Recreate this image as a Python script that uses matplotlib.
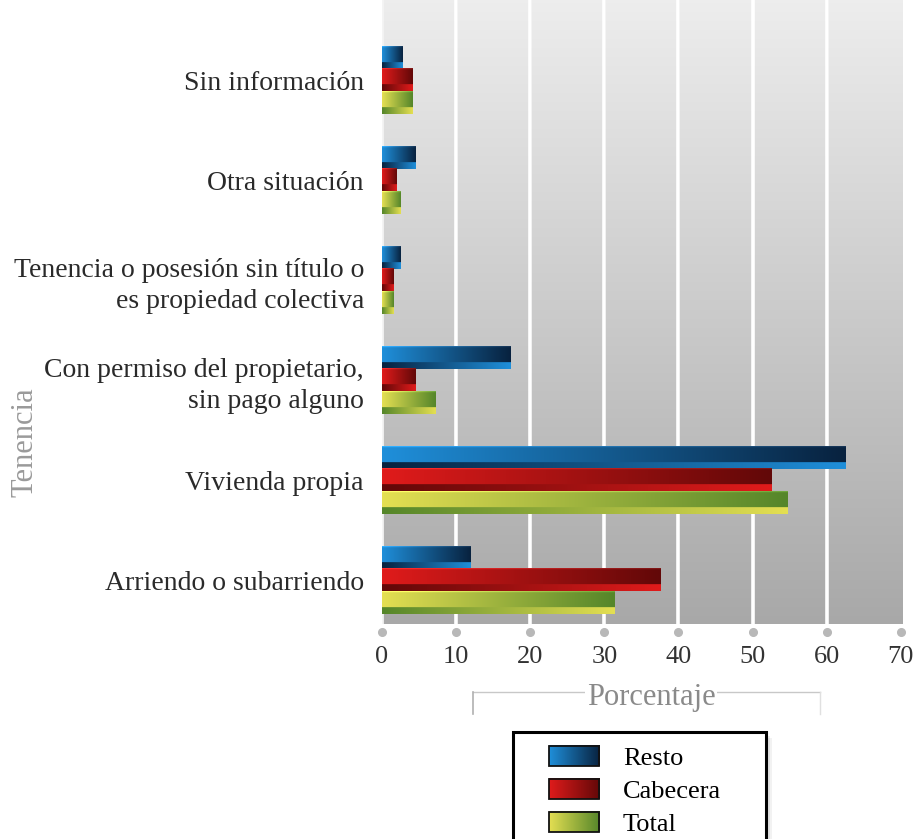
import numpy as np
import matplotlib
matplotlib.use('Agg')
import matplotlib.pyplot as plt
from matplotlib.colors import to_rgb
from matplotlib.patches import Rectangle, Patch
from matplotlib.lines import Line2D
from matplotlib.legend_handler import HandlerBase
from matplotlib.image import BboxImage
from matplotlib.transforms import Bbox, TransformedBbox

plt.rcParams['font.family'] = ['Liberation Serif', 'DejaVu Serif']

# categories bottom -> top
categorias = ['Arriendo o subarriendo', 'Vivienda propia',
              'Con permiso del propietario,\nsin pago alguno',
              'Tenencia o posesión sin título o\nes propiedad colectiva',
              'Otra situación', 'Sin información']
resto = [12.0, 62.5, 17.4, 2.5, 4.5, 2.8]
cabecera = [37.6, 52.5, 4.5, 1.6, 1.9, 4.1]
total = [31.4, 54.7, 7.2, 1.6, 2.5, 4.1]
series_names = ['Resto', 'Cabecera', 'Total']
xticks = [0, 10, 20, 30, 40, 50, 60, 70]

# light -> dark for each series
colores = {
    'Resto': ('#1f8fda', '#08223f'),
    'Cabecera': ('#e01b1b', '#620808'),
    'Total': ('#e4df52', '#55862a'),
}


def gradiente(c1, c2, n=120, rows=20, split=0.72):
    a = np.array(to_rgb(c1))
    b = np.array(to_rgb(c2))
    t = np.linspace(0, 1, n)[:, None]
    fwd = a + (b - a) * t
    rev = b + (a - b) * t
    img = np.zeros((rows, n, 3))
    k = int(rows * split)
    img[:k] = fwd[None, :, :]
    img[k:] = rev[None, :, :]
    if split < 1:
        img[0] = np.clip(fwd * 1.15 + 0.05, 0, 1)
    return img


class GradHandler(HandlerBase):
    def create_artists(self, legend, orig_handle, xdescent, ydescent,
                       width, height, fontsize, trans):
        c1, c2 = colores[orig_handle.get_label()]
        bb = TransformedBbox(Bbox.from_bounds(-xdescent, -ydescent, width, height), trans)
        im = BboxImage(bb, interpolation='bilinear')
        im.set_data(gradiente(c1, c2, split=1.0))
        r = Rectangle((-xdescent, -ydescent), width, height, fill=False,
                      edgecolor='#111111', lw=1.3, transform=trans)
        return [im, r]


fig = plt.figure(figsize=(9.13, 8.39), dpi=100)
ax = fig.add_axes([382 / 913, (839 - 624) / 839, 521 / 913, 624 / 839])

# gray gradient background
bg = np.linspace(0.93, 0.66, 200)[:, None] * np.ones((1, 50))
ax.imshow(np.dstack([bg, bg, bg]), extent=[0, 1, 0, 1], transform=ax.transAxes,
          aspect='auto', zorder=0, interpolation='bilinear')

y = np.arange(len(categorias))
h = 0.225
offs = {'Resto': h, 'Cabecera': 0.0, 'Total': -h}
datos = {'Resto': resto, 'Cabecera': cabecera, 'Total': total}

for name in series_names:
    bars = ax.barh(y + offs[name], datos[name], height=h, color='none',
                   edgecolor='none', zorder=3)
    img = gradiente(*colores[name])
    for b in bars:
        x0, y0 = b.get_x(), b.get_y()
        ax.imshow(img, extent=[x0, x0 + b.get_width(), y0, y0 + b.get_height()],
                  aspect='auto', interpolation='bilinear', zorder=3, origin='upper')

ax.set_xlim(0, 70.3)
ax.set_ylim(-0.44, 5.8)
ax.set_xticks(xticks)
ax.set_xticklabels([str(v) for v in xticks], fontsize=19, color='#333333')
ax.set_yticks(y)
ax.set_yticklabels(categorias, fontsize=20, color='#2a2a2a', linespacing=1.3)
ax.tick_params(axis='both', length=0)
ax.tick_params(axis='x', pad=16)
ax.tick_params(axis='y', pad=13)
for s in ax.spines.values():
    s.set_visible(False)

# white gridlines with soft shadow
for v in xticks[1:-1]:
    ax.axvline(v + 0.12, color='#9a9a9a', lw=1.2, alpha=0.5, zorder=1)
    ax.axvline(v, color='white', lw=2.6, zorder=2)
ax.axvline(0, color='#f4f4f4', lw=2, zorder=2)

# tick dots
ax.plot(xticks, [-0.52] * len(xticks), 'o', color='#b8b8b8', ms=5.5,
        clip_on=False, zorder=4)

fig.text(25 / 913, 1 - 442 / 839, 'Tenencia', rotation=90, fontsize=22,
         color='#9a9a9a', ha='center', va='center')

# Porcentaje bracket
fig.add_artist(Line2D([473 / 913, 820 / 913], [1 - 692 / 839] * 2, color='#c8c8c8', lw=1))
fig.add_artist(Line2D([473 / 913] * 2, [1 - 692 / 839, 1 - 714 / 839], color='#b0b0b0', lw=1.2))
fig.add_artist(Line2D([820 / 913] * 2, [1 - 692 / 839, 1 - 714 / 839], color='#e0e0e0', lw=1))
fig.text(651 / 913, 1 - 697 / 839, 'Porcentaje', fontsize=22, color='#8a8a8a',
         ha='center', va='center',
         bbox=dict(facecolor='white', edgecolor='none', pad=1))

# legend box with shadow
for i, a in enumerate([0.05, 0.07, 0.1]):
    d = 6 - 2 * i
    fig.add_artist(Rectangle(((513 + d) / 913, 1 - (860 + d) / 839), 253 / 913, 128 / 839,
                             facecolor='black', alpha=a, edgecolor='none'))
fig.add_artist(Rectangle((513 / 913, 1 - 860 / 839), 253 / 913, 128 / 839,
                         facecolor='white', edgecolor='black', lw=2.2))

handles = [Patch(label=n) for n in series_names]
fig.legend(handles, series_names, loc='upper left',
           bbox_to_anchor=(528 / 913, 1 - 725 / 839), frameon=False,
           fontsize=19, handlelength=1.9, handleheight=0.8,
           handletextpad=0.9, labelspacing=0.32, borderpad=0.3,
           handler_map={Patch: GradHandler()})

fig.savefig('out.png', dpi=100)
